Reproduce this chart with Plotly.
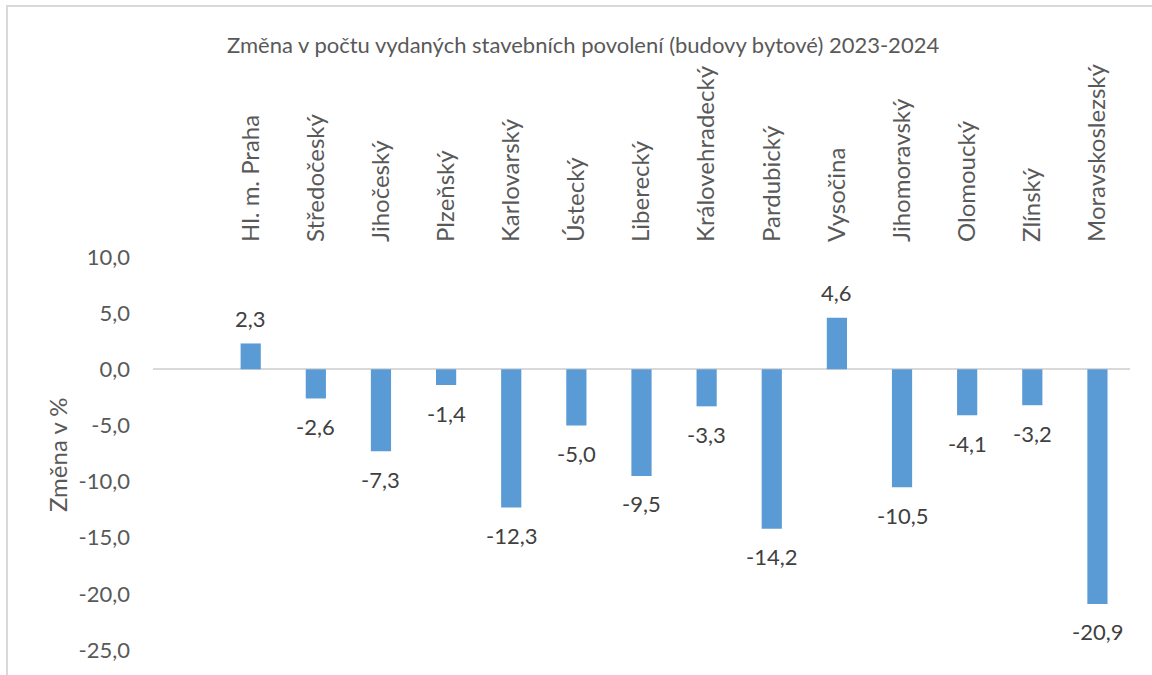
import plotly.graph_objects as go

title = "Změna v počtu vydaných stavebních povolení (budovy bytové) 2023-2024"
regions = ["Hl. m. Praha", "Středočeský", "Jihočeský", "Plzeňský", "Karlovarský",
           "Ústecký", "Liberecký", "Královehradecký", "Pardubický", "Vysočina",
           "Jihomoravský", "Olomoucký", "Zlínský", "Moravskoslezský"]
change = [2.3, -2.6, -7.3, -1.4, -12.3, -5.0, -9.5, -3.3, -14.2, 4.6, -10.5, -4.1, -3.2, -20.9]
y_ticks = [10, 5, 0, -5, -10, -15, -20, -25]
y_tick_text = [f"{v:.1f}".replace(".", ",") for v in y_ticks]
y_title = "Změna v %"

FONT = "Lato"
GREY = "#595959"

PL, PR, PT, PB = 153, 1130, 257, 650  # plot area in screenshot coords
PW, PH = PR - PL, PB - PT

def px(x):
    return (x - PL) / PW

def py(y):
    return (PB - y) / PH

fig = go.Figure()
fig.add_trace(go.Bar(
    x=regions, y=change, width=0.31,
    marker=dict(color="#5B9BD5", line=dict(width=0)),
    hoverinfo="x+y",
))

annotations = []
for r, v in zip(regions, change):
    annotations.append(dict(
        x=r, y=v, xref="x", yref="y",
        text=f"{v:.1f}".replace(".", ","),
        showarrow=False, yanchor="middle", xanchor="center",
        yshift=25 if v >= 0 else -28,
        font=dict(family=FONT, size=22, color="#404040"),
    ))

annotations.append(dict(
    x=px(57), y=py(455), xref="paper", yref="paper", text=y_title,
    showarrow=False, textangle=-90, xanchor="center", yanchor="middle",
    font=dict(family=FONT, size=24, color=GREY),
))
annotations.append(dict(
    x=px(583), y=py(44), xref="paper", yref="paper", text=title,
    showarrow=False, xanchor="center", yanchor="middle",
    font=dict(family=FONT, size=22, color=GREY),
))

fig.update_layout(
    width=1152, height=675,
    margin=dict(l=PL, r=1152 - PR, t=PT, b=675 - PB, autoexpand=False),
    paper_bgcolor="white", plot_bgcolor="white",
    separators=", ",
    showlegend=False,
    annotations=annotations,
    xaxis=dict(
        type="category", side="top", tickangle=-90,
        range=[-1.5, len(regions) - 0.5],
        showgrid=False, showline=False, zeroline=False, ticks="",
        ticklabelstandoff=14,
        tickfont=dict(family=FONT, size=24, color=GREY),
    ),
    yaxis=dict(
        range=[-25, 10], tickvals=y_ticks, ticktext=y_tick_text,
        showgrid=False, showline=False,
        zeroline=True, zerolinecolor="#D9D9D9", zerolinewidth=2,
        ticks="", ticklabelstandoff=22,
        tickfont=dict(family=FONT, size=22, color=GREY),
    ),
    shapes=[dict(
        type="rect", xref="paper", yref="paper",
        x0=px(7), x1=px(1170),
        y0=py(700), y1=py(6),
        line=dict(color="#D9D9D9", width=2), fillcolor="rgba(0,0,0,0)",
        layer="below",
    )],
)

fig.write_html("out.html", config={"displayModeBar": False},
               post_script="document.body.style.margin='0';")
